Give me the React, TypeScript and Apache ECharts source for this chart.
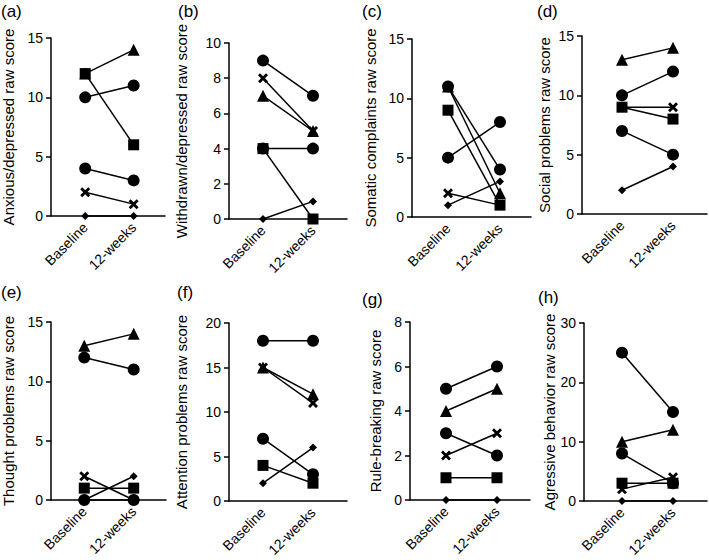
import React, { useEffect, useRef } from "react";
import * as echarts from "echarts";

const categories = ["Baseline", "12-weeks"];
const panelLetters = ["(a)", "(b)", "(c)", "(d)", "(e)", "(f)", "(g)", "(h)"];
const yNames = [
  "Anxious/depressed raw score",
  "Withdrawn/depressed raw score",
  "Somatic complaints raw score",
  "Social problems raw score",
  "Thought problems raw score",
  "Attention problems raw score",
  "Rule-breaking raw score",
  "Agressive behavior raw score",
];
const yMax = [15, 10, 15, 15, 15, 20, 8, 30];
const yInterval = [5, 2, 5, 5, 5, 5, 2, 10];

// subject order: diamond, triangle, circleA, circleB, cross, square ; values [baseline, 12-weeks]
const anxiousDepressed = [[0, 0], [12, 14], [10, 11], [4, 3], [2, 1], [12, 6]];
const withdrawnDepressed = [[0, 1], [7, 5], [9, 7], [4, 4], [8, 5], [4, 0]];
const somaticComplaints = [[1, 3], [11, 2], [11, 4], [5, 8], [2, 1], [9, 1]];
const socialProblems = [[2, 4], [13, 14], [10, 12], [7, 5], [9, 9], [9, 8]];
const thoughtProblems = [[0, 2], [13, 14], [12, 11], [0, 0], [2, 0], [1, 1]];
const attentionProblems = [[2, 6], [15, 12], [18, 18], [7, 3], [15, 11], [4, 2]];
const ruleBreaking = [[0, 0], [4, 5], [5, 6], [3, 2], [2, 3], [1, 1]];
const aggressiveBehavior = [[0, 0], [10, 12], [25, 15], [8, 3], [2, 4], [3, 3]];

const panelData = [
  anxiousDepressed,
  withdrawnDepressed,
  somaticComplaints,
  socialProblems,
  thoughtProblems,
  attentionProblems,
  ruleBreaking,
  aggressiveBehavior,
];

const CROSS =
  "path://M2,0 L5,3 L8,0 L10,2 L7,5 L10,8 L8,10 L5,7 L2,10 L0,8 L3,5 L0,2 Z";
const symbols = ["diamond", "triangle", "circle", "circle", CROSS, "rect"];
const symbolSizes = [8, 12, 12, 12, 10, 11];

// layout: left, right, top, bottom, baseline x, 12-weeks x, name gap, label pos
const layouts = [
  { l: 45, r: 165, t: 38, b: 216, bx: 81, wx: 132, gap: 35, lx: 1, ly: 3 },
  { l: 229, r: 347, t: 43, b: 219, bx: 263, wx: 313, gap: 40, lx: 178, ly: 3 },
  { l: 412, r: 531, t: 39, b: 217, bx: 448, wx: 500, gap: 34, lx: 362, ly: 3 },
  { l: 582, r: 707, t: 36, b: 214, bx: 622, wx: 673, gap: 30, lx: 537, ly: 3 },
  { l: 45, r: 166, t: 322, b: 500, bx: 80, wx: 132, gap: 35, lx: 1, ly: 284 },
  { l: 229, r: 347, t: 323, b: 501, bx: 263, wx: 313, gap: 40, lx: 177, ly: 284 },
  { l: 410, r: 530, t: 322, b: 500, bx: 446, wx: 497, gap: 27, lx: 362, ly: 291 },
  { l: 584, r: 707, t: 323, b: 501, bx: 622, wx: 673, gap: 27, lx: 538, ly: 289 },
];

const FONT = "Liberation Sans, Arial, sans-serif";

export default function App() {
  const ref = useRef<HTMLDivElement>(null);
  useEffect(() => {
    if (!ref.current) return;
    const chart = echarts.init(ref.current, undefined, { renderer: "svg" });
    const grid: any[] = [];
    const xAxis: any[] = [];
    const yAxis: any[] = [];
    const series: any[] = [];
    const graphic: any[] = [];
    layouts.forEach((L, i) => {
      grid.push({
        left: L.l,
        top: L.t,
        width: L.r - L.l,
        height: L.b - L.t,
        containLabel: false,
      });
      const unit = L.wx - L.bx;
      xAxis.push({
        type: "value",
        gridIndex: i,
        min: -(L.bx - L.l) / unit,
        max: (L.r - L.bx) / unit,
        axisLine: { show: true, onZero: false, lineStyle: { color: "#000", width: 1.5 } },
        axisTick: { show: false },
        splitLine: { show: false },
        axisLabel: {
          customValues: [0, 1],
          rotate: 45,
          margin: 9,
          color: "#000",
          fontSize: 14,
          fontFamily: FONT,
          formatter: (v: number) => categories[Math.round(v)] ?? "",
        },
      });
      yAxis.push({
        type: "value",
        gridIndex: i,
        min: 0,
        max: yMax[i],
        interval: yInterval[i],
        name: yNames[i],
        nameLocation: "middle",
        nameGap: L.gap,
        nameRotate: 90,
        nameTextStyle: { color: "#000", fontSize: 15, fontFamily: FONT },
        axisLine: { show: true, onZero: false, lineStyle: { color: "#000", width: 1.5 } },
        axisTick: { show: true, length: 5, lineStyle: { color: "#000", width: 1.5 } },
        splitLine: { show: false },
        axisLabel: { color: "#000", fontSize: 14, fontFamily: FONT, margin: 8 },
      });
      panelData[i].forEach((pair, s) => {
        series.push({
          type: "line",
          xAxisIndex: i,
          yAxisIndex: i,
          data: [
            [0, pair[0]],
            [1, pair[1]],
          ],
          symbol: symbols[s],
          symbolSize: symbolSizes[s],
          showAllSymbol: true,
          lineStyle: { color: "#000", width: 1.5 },
          itemStyle: { color: "#000", borderWidth: 0 },
          emphasis: { disabled: true },
          silent: true,
          clip: false,
        });
      });
      graphic.push({
        type: "text",
        left: L.lx,
        top: L.ly,
        style: { text: panelLetters[i], fill: "#000", font: `17px ${FONT}` },
      });
    });
    chart.setOption({
      animation: false,
      backgroundColor: "#fff",
      grid,
      xAxis,
      yAxis,
      series,
      graphic,
    });
    return () => chart.dispose();
  }, []);
  return (
    <div
      ref={ref}
      style={{ width: 709, height: 560, position: "absolute", left: 0, top: 0 }}
    />
  );
}
